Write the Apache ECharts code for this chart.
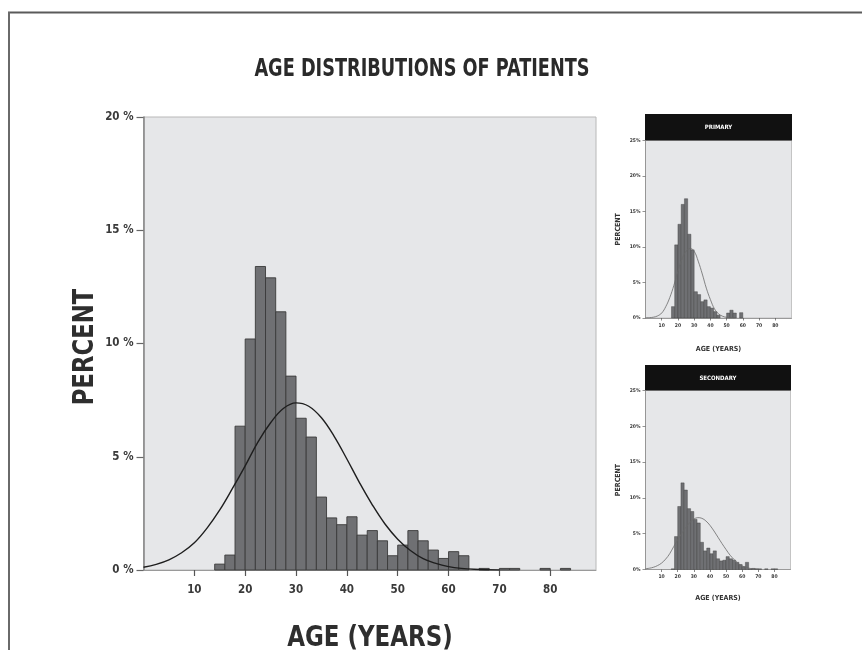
<!DOCTYPE html>
<html>
<head>
<meta charset="utf-8">
<script src="https://cdn.jsdelivr.net/npm/echarts@6/dist/echarts.min.js"></script>
<style>html,body{margin:0;padding:0;background:#fff}#c{width:862px;height:650px}</style>
</head>
<body>
<div id="c"></div>
<script>
// ---- data ----
const BIN_WIDTH = 2; // years per bar
const mainBinStarts = [14,16,18,20,22,24,26,28,30,32,34,36,38,40,42,44,46,48,50,52,54,56,58,60,62,66,70,72,78,82];
const mainPercent   = [0.26,0.66,6.35,10.2,13.4,12.9,11.4,8.56,6.7,5.87,3.22,2.3,2.0,2.35,1.54,1.74,1.29,0.63,1.1,1.74,1.29,0.88,0.51,0.81,0.63,0.07,0.07,0.07,0.07,0.07];
const mainCurveAge  = [0,2.5,5,7.5,10,12.5,15,17.5,20,22.5,25,27.5,30,32.5,35,37.5,40,42.5,45,47.5,50,52.5,55,57.5,60,62.5,65,70];
const mainCurvePct  = [0.12,0.25,0.45,0.76,1.2,1.85,2.65,3.6,4.6,5.65,6.5,7.13,7.38,7.23,6.72,5.9,4.9,3.85,2.88,2.03,1.36,0.86,0.5,0.29,0.15,0.07,0.03,0.0];

const primBinStarts = [16,18,20,22,24,26,28,30,32,34,36,38,40,42,44,50,52,54,58];
const primPercent   = [1.6,10.3,13.2,16.0,16.8,11.8,9.6,3.7,3.3,2.3,2.55,1.6,1.4,0.9,0.4,0.7,1.1,0.7,0.75];
const primCurveAge  = [0,2.5,5,7.5,10,12.5,15,17.5,20,22.5,25,27.5,30,32.5,35,37.5,40,42.5,45,47.5,50,55];
const primCurvePct  = [0.02,0.05,0.12,0.3,0.7,1.6,2.9,4.6,6.6,8.3,9.4,9.8,9.4,8.0,6.2,4.2,2.6,1.3,0.6,0.25,0.1,0.01];

const secBinStarts = [16,18,20,22,24,26,28,30,32,34,36,38,40,42,44,46,48,50,52,54,56,58,60,62,64,66,68,70,74,78,80];
const secPercent   = [0.1,4.6,8.8,12.1,11.1,8.5,8.1,7.0,6.5,3.8,2.6,3.0,2.2,2.6,1.5,1.2,1.3,1.8,1.5,1.3,1.0,0.7,0.4,1.0,0.1,0.15,0.1,0.1,0.1,0.1,0.1];
const secCurveAge  = [0,2.5,5,7.5,10,12.5,15,17.5,20,22.5,25,27.5,30,32.5,35,37.5,40,42.5,45,47.5,50,52.5,55,57.5,60,62.5,65,67.5,70];
const secCurvePct  = [0.1,0.18,0.32,0.55,0.9,1.45,2.2,3.2,4.15,5.04,5.87,6.56,7.04,7.24,7.15,6.78,6.17,5.38,4.5,3.62,2.79,2.0,1.4,0.85,0.5,0.3,0.15,0.08,0.03];

const xTicks = [10,20,30,40,50,60,70,80];

// ---- helpers ----
function binData(starts, vals){ return starts.map((s,i)=>[s, s+BIN_WIDTH, vals[i]]); }
function curveData(a, p){ return a.map((x,i)=>[x, p[i]]); }
const FONT = "'Liberation Sans Narrow','DejaVu Sans Condensed','Liberation Sans',sans-serif";
const BG = '#e6e7e9';

function barSeries(idx, data, lw){
  return {
    type:'custom', xAxisIndex:idx, yAxisIndex:idx, data:data, silent:true,
    encode:{x:[0,1], y:2},
    renderItem:function(params, api){
      const p0 = api.coord([api.value(0), api.value(2)]);
      const p1 = api.coord([api.value(1), 0]);
      return {type:'rect', shape:{x:p0[0], y:p0[1], width:p1[0]-p0[0], height:p1[1]-p0[1]},
        style:{fill:'#6f7073', stroke:'#3a3a3a', lineWidth:lw}};
    }
  };
}
function lineSeries(idx, data, color, w){
  return {type:'line', xAxisIndex:idx, yAxisIndex:idx, data:data, smooth:0.4, showSymbol:false, silent:true,
    lineStyle:{color:color, width:w}, z:5};
}
function xAx(idx, max, fs, name, nameFs, gap, margin){
  return {gridIndex:idx, type:'value', min:0, max:max, interval:10,
    axisLine:{show:true, lineStyle:{color:'#9a9a9a', width:1}},
    axisTick:{show:true, customValues:xTicks, length: idx===0?6:2.5, lineStyle:{color:'#555', width:idx===0?1.2:0.7}},
    axisLabel:{customValues:xTicks, fontFamily:FONT, fontWeight:'bold', fontSize:fs, color:'#3a3a3a', margin: margin},
    splitLine:{show:false},
    name:name, nameLocation:'middle', nameGap:gap,
    nameTextStyle:{fontFamily:FONT, fontWeight:'bold', fontSize:nameFs, color:'#333'}};
}
function yAx(idx, max, fs, fmt, name, nameFs, gap, margin){
  return {gridIndex:idx, type:'value', min:0, max:max, interval:5,
    axisLine:{show:true, lineStyle:{color:'#8a8a8a', width: idx===0?1.6:0.8}},
    axisTick:{show:true, length: idx===0?7:3, lineStyle:{color:'#666', width: idx===0?1.2:0.7}},
    axisLabel:{fontFamily:FONT, fontWeight:'bold', fontSize:fs, color:'#3a3a3a', margin: margin,
      formatter:function(v){ return v + fmt; }},
    splitLine:{show:false},
    name:name, nameLocation:'middle', nameRotate:90, nameGap:gap,
    nameTextStyle:{fontFamily:FONT, fontWeight:'bold', fontSize:nameFs, color:'#333'}};
}

const chart = echarts.init(document.getElementById('c'), null, {renderer:'canvas'});
const mainX = xAx(0, 89, 11.5, '', 26, 66, 14);
const mainY = yAx(0, 20, 11.5, ' %', '', 27, 44, 10);
chart.setOption({
  animation:false,
  backgroundColor:'#fff',
  grid:[
    {left:143.5, top:117, width:452.5, height:453, show:true, backgroundColor:BG, borderColor:'#b8b8b8', borderWidth:1, containLabel:false, outerBoundsMode:'none'},
    {left:645.5, top:140.5, width:146, height:177.5, show:true, backgroundColor:BG, borderColor:'#b8b8b8', borderWidth:0.8, containLabel:false, outerBoundsMode:'none'},
    {left:645.5, top:390.5, width:145, height:179, show:true, backgroundColor:BG, borderColor:'#b8b8b8', borderWidth:0.8, containLabel:false, outerBoundsMode:'none'}
  ],
  xAxis:[
    mainX,
    xAx(1, 90, 5, 'AGE (YEARS)', 7, 28, 5),
    xAx(2, 90, 5, 'AGE (YEARS)', 7, 25.5, 5)
  ],
  yAxis:[
    mainY,
    yAx(1, 25, 5, '%', 'PERCENT', 7, 24, 5),
    yAx(2, 25, 5, '%', 'PERCENT', 7, 24, 5)
  ],
  series:[
    barSeries(0, binData(mainBinStarts, mainPercent), 0.9),
    lineSeries(0, curveData(mainCurveAge, mainCurvePct), '#1e1e1e', 1.4),
    barSeries(1, binData(primBinStarts, primPercent), 0.4),
    lineSeries(1, curveData(primCurveAge, primCurvePct), '#6a6a6a', 0.8),
    barSeries(2, binData(secBinStarts, secPercent), 0.4),
    lineSeries(2, curveData(secCurveAge, secCurvePct), '#6a6a6a', 0.8)
  ],
  graphic:[
    {type:'line', shape:{x1:8, y1:12.5, x2:862, y2:12.5}, style:{stroke:'#5a5a5a', lineWidth:2}},
    {type:'line', shape:{x1:9, y1:12, x2:9, y2:650}, style:{stroke:'#6a6a6a', lineWidth:2}},
    {type:'text', x:422, y:70, scaleX:0.82, style:{text:'AGE DISTRIBUTIONS OF PATIENTS', fontFamily:FONT, fontWeight:'bold', fontSize:24, fill:'#2a2a2a', textAlign:'center', textVerticalAlign:'middle'}},
    {type:'text', x:85, y:347, rotation:Math.PI/2, scaleX:0.87, style:{text:'PERCENT', fontFamily:FONT, fontWeight:'bold', fontSize:29, fill:'#2e2e2e', textAlign:'center', textVerticalAlign:'middle'}},
    {type:'text', x:370, y:638, scaleX:0.88, style:{text:'AGE (YEARS)', fontFamily:FONT, fontWeight:'bold', fontSize:29, fill:'#2e2e2e', textAlign:'center', textVerticalAlign:'middle'}},
    {type:'rect', shape:{x:645, y:114, width:147, height:26.5}, style:{fill:'#111'}},
    {type:'text', x:718.5, y:127.5, style:{text:'PRIMARY', fontFamily:FONT, fontWeight:'bold', fontSize:6, fill:'#fff', textAlign:'center', textVerticalAlign:'middle'}},
    {type:'rect', shape:{x:645, y:365, width:146, height:25.5}, style:{fill:'#111'}},
    {type:'text', x:718, y:378, style:{text:'SECONDARY', fontFamily:FONT, fontWeight:'bold', fontSize:6, fill:'#fff', textAlign:'center', textVerticalAlign:'middle'}}
  ]
});
</script>
</body>
</html>
